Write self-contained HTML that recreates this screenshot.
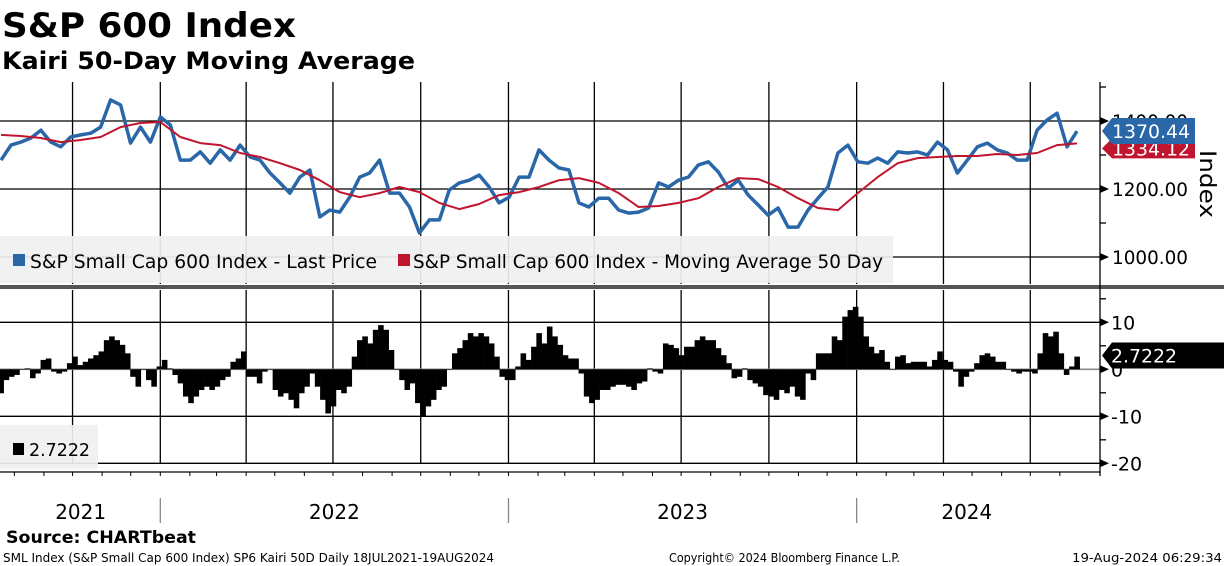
<!DOCTYPE html>
<html><head><meta charset="utf-8"><style>
html,body{margin:0;padding:0;background:#fff;}
svg{display:block;}
text{font-family:"DejaVu Sans","Liberation Sans",sans-serif;}
</style></head><body>
<svg id="chart" width="1224" height="566" viewBox="0 0 1224 566" xmlns="http://www.w3.org/2000/svg">
<text x="2" y="37" font-size="34" font-weight="bold" textLength="294" lengthAdjust="spacingAndGlyphs">S&amp;P 600 Index</text>
<text x="2" y="69" font-size="24" font-weight="bold" textLength="413" lengthAdjust="spacingAndGlyphs">Kairi 50-Day Moving Average</text>
<g id="grid"></g>
<rect x="0" y="236" width="893" height="47" fill="#f0f0f0" opacity="0.92"/>
<rect x="0" y="425" width="98" height="44" fill="#f0f0f0" opacity="0.92"/>
<g id="marks"></g>
<g id="legend">
<rect x="13" y="254" width="12" height="12" fill="#2a67a8"/>
<text x="30" y="268" font-size="19" textLength="347" lengthAdjust="spacingAndGlyphs">S&amp;P Small Cap 600 Index - Last Price</text>
<rect x="398" y="254" width="12" height="12" fill="#c0152f"/>
<text x="413" y="268" font-size="19" textLength="470" lengthAdjust="spacingAndGlyphs">S&amp;P Small Cap 600 Index - Moving Average 50 Day</text>
<rect x="13" y="443" width="11" height="12" fill="#000"/>
<text x="29" y="456" font-size="18" textLength="61" lengthAdjust="spacingAndGlyphs">2.7222</text>
</g>
<g id="axes"></g>
<text transform="translate(1200,150) rotate(90)" font-size="22" textLength="68" lengthAdjust="spacingAndGlyphs">Index</text>
<text x="6" y="543" font-size="17" font-weight="bold" textLength="190" lengthAdjust="spacingAndGlyphs">Source: CHARTbeat</text>
<text x="3" y="562" font-size="12" textLength="491" lengthAdjust="spacingAndGlyphs">SML Index (S&amp;P Small Cap 600 Index) SP6 Kairi 50D  Daily 18JUL2021-19AUG2024</text>
<text x="669" y="562" font-size="12" textLength="231" lengthAdjust="spacingAndGlyphs">Copyright© 2024 Bloomberg Finance L.P.</text>
<text x="1072" y="562" font-size="12" textLength="150" lengthAdjust="spacingAndGlyphs">19-Aug-2024 06:29:34</text>
</svg>
<script>
const startDate = "2021-07-18";
const endDate = "2024-08-19";
const priceValues = [1285,1329,1338,1350,1373,1338,1324,1353,1359,1364,1382,1462,1447,1335,1382,1338,1412,1388,1285,1285,1309,1276,1315,1285,1329,1294,1285,1247,1218,1188,1235,1256,1118,1138,1132,1176,1235,1247,1285,1188,1188,1147,1071,1109,1109,1197,1218,1226,1241,1206,1159,1176,1235,1235,1315,1285,1262,1256,1159,1147,1173,1173,1138,1129,1132,1144,1218,1206,1226,1235,1271,1280,1250,1203,1226,1182,1153,1123,1144,1088,1088,1138,1173,1206,1306,1329,1280,1276,1291,1276,1309,1306,1309,1300,1338,1315,1247,1285,1324,1335,1315,1306,1285,1285,1373,1403,1423,1324,1370];
const maValues = [1359,1356,1350,1338,1344,1353,1382,1394,1397,1353,1335,1329,1306,1294,1276,1256,1226,1191,1176,1188,1206,1191,1159,1141,1156,1182,1191,1206,1226,1232,1218,1188,1147,1150,1159,1173,1206,1232,1229,1206,1173,1144,1138,1188,1235,1276,1291,1294,1297,1297,1303,1300,1306,1329,1334];
const kairiValues = [-5.1,-2.3,-1.6,-1.2,-0.1,0.2,-1.9,-0.9,2,2.3,-0.5,-0.9,-0.5,1.3,2.7,0.9,1.6,2.3,3,3.8,6.2,7,6.2,5.2,3.4,-1.6,-3.7,-0.1,-2.3,-3.7,0.6,2,0.2,-1.2,-3,-5.8,-7.2,-5.8,-4.4,-3.7,-4.4,-3.7,-2.3,-1.6,1.6,2.3,3.8,-1.6,-1.6,-3,-0.5,-0.1,-4.4,-5.8,-5.1,-6.5,-8.3,-5.1,-3.7,-0.9,-3.7,-6.5,-9.4,-7.9,-4.4,-5.1,-3.7,2.7,6.2,7,5.5,8.4,9.4,8.4,4.1,-0.1,-2.3,-4.4,-3,-7.2,-10,-7.9,-6.5,-4.4,-3.7,-0.1,3.4,4.5,6.2,7.7,7,7.7,7,5.5,2.7,-1.6,-2.3,-2.3,0.6,3.4,2,4.8,7.7,5.5,
9.1,7,5.2,3,2.3,2.3,-0.9,-5.8,-7.2,-6.5,-4.4,-4.4,-3.7,-3.3,-3.3,-3.7,-4.4,-3,-2.6,0.2,-0.5,-0.9,5.5,5.2,4.5,3,4.8,4.8,6.2,7,6.2,6.2,4.5,3,1.3,-1.9,-1.6,0.2,-2.3,-3,-3.7,-5.5,-5.8,-6.5,-4.4,-5.1,-3.7,-5.8,-6.5,-0.9,-2.3,3.4,3.4,3.4,7,6.2,11.2,12.6,13.3,11.2,7,4.8,3.4,4.1,1.6,-0.1,2.7,3,1.3,1.6,1.6,1.6,0.6,2,3.8,2,1.6,-0.5,-3.7,-1.6,-0.5,1.3,3,3.4,2.7,1.6,1.6,-0.1,-0.5,-0.9,-0.5,-0.5,-0.9,3.4,7.7,7,8,3.4,-1.2,0.6,2.7];
const priceTicks = [1000,1200,1400];
const priceTickLabels = ["1000.00","1200.00","1400.00"];
const kairiTicks = [-20,-10,0,10];
const kairiTickLabels = ["-20","-10","0","10"];
const yearLabels = ["2021","2022","2023","2024"];
const lastPriceLabel = "1370.44";
const lastMaLabel = "1334.12";
const lastKairiLabel = "2.7222";

const NS = "http://www.w3.org/2000/svg";
const X0 = 1, X1 = 1077, AX = 1100;
const t0 = Date.parse(startDate), t1 = Date.parse(endDate);
function xDate(t){ return X0 + (t - t0) / (t1 - t0) * (X1 - X0); }
function xIdx(i, n){ return X0 + i / (n - 1) * (X1 - X0); }
function yPrice(v){ return 121 + (1400 - v) * 68 / 200; }
function yKairi(v){ return 369.3 - v * 4.7; }
function mk(tag, attrs, parent){ const e = document.createElementNS(NS, tag); for (const k in attrs) e.setAttribute(k, attrs[k]); parent.appendChild(e); return e; }
const grid = document.getElementById('grid'), marks = document.getElementById('marks'), axes = document.getElementById('axes');

for (let y = 2021; y <= 2024; y++) for (let m = 0; m < 12; m += 3) {
  const t = Date.UTC(y, m, 1); if (t <= t0 || t >= t1) continue;
  const x = xDate(t);
  for (const [a, b] of [[82, 284], [290, 464]]) {
    const l = mk('line', {x1: x, x2: x, y1: a, y2: b, stroke: '#000', 'stroke-width': 1.3}, grid);
    
    
  }
}
priceTicks.forEach(v => {
  const l = mk('line', {x1: 0, x2: AX, y1: yPrice(v), y2: yPrice(v), stroke: '#000', 'stroke-width': 1.3}, grid);
  
  
});
kairiTicks.forEach(v => {
  const l = mk('line', {x1: 0, x2: AX, y1: yKairi(v), y2: yKairi(v), stroke: v === 0 ? '#888' : '#000', 'stroke-width': v === 0 ? 1.6 : 1.3}, grid);
  
  
});

const bw = (X1 - X0) / (kairiValues.length - 1);
kairiValues.forEach((v, i) => {
  const x = xIdx(i, kairiValues.length), y0 = yKairi(0), y = yKairi(v);
  const r = mk('rect', {x: x - bw / 2, y: Math.min(y, y0), width: bw + 0.3, height: Math.abs(y - y0), fill: '#000'}, marks);
  
  
});
function line(vals, color, w, name){
  const d = vals.map((v, i) => (i ? 'L' : 'M') + xIdx(i, vals.length).toFixed(1) + ',' + yPrice(v).toFixed(1)).join('');
  const p = mk('path', {d: d, fill: 'none', stroke: color, 'stroke-width': w, 'stroke-linejoin': 'round'}, marks);
  
  
}
line(priceValues, '#2a67a8', 3.5, 'last-price-line');
line(maValues, '#c0152f', 2, 'moving-average-line');

const sep = mk('rect', {x: 0, y: 285, width: 1224, height: 4, fill: '#555'}, axes);


const ax = mk('line', {x1: AX, x2: AX, y1: 82, y2: 476, stroke: '#000', 'stroke-width': 1.3}, axes);


for (let v = 1000; v <= 1500; v += 100) {
  const y = yPrice(v); if (y < 82) continue;
  const t = mk('line', {x1: AX, x2: AX + 6, y1: y, y2: y, stroke: '#000', 'stroke-width': 1.3}, axes);
  
  
}
for (let v = -20; v <= 15; v += 5) {
  const y = yKairi(v); if (y < 290) continue;
  const t = mk('line', {x1: AX, x2: AX + 6, y1: y, y2: y, stroke: '#000', 'stroke-width': 1.3}, axes);
  
  
}
function arrow(y){ const a = mk('path', {d: `M${AX},${y - 4}L${AX + 9},${y}L${AX},${y + 4}Z`, fill: '#000'}, axes);
  
   }
priceTicks.forEach((v, i) => {
  arrow(yPrice(v));
  const t = mk('text', {x: 1112, y: yPrice(v) + 7, 'font-size': 19, textLength: 76, lengthAdjust: 'spacingAndGlyphs'}, axes);
  t.textContent = priceTickLabels[i];
  
  
});
kairiTicks.forEach((v, i) => {
  arrow(yKairi(v));
  const t = mk('text', {x: 1111, y: yKairi(v) + 7, 'font-size': 19}, axes);
  t.textContent = kairiTickLabels[i];
  
  
});
function tag(y, h, fill, txt, name){
  const g = mk('g', {}, axes);
  
  
  mk('path', {d: `M${AX + 2},${y}L${AX + 12},${y - h / 2}L1195,${y - h / 2}L1195,${y + h / 2}L${AX + 12},${y + h / 2}Z`, fill: fill}, g);
  const t = mk('text', {x: 1112, y: y + 7, 'font-size': 19, fill: '#fff', textLength: 78, lengthAdjust: 'spacingAndGlyphs'}, g);
  t.textContent = txt;
}
tag(yPrice(1334.12) + 5, 20, '#c0152f', lastMaLabel, 'last-ma-tag');
tag(yPrice(1370.44), 26, '#2a67a8', lastPriceLabel, 'last-price-tag');
(function(){
  const y = yKairi(2.7222) - 1;
  const g = mk('g', {}, axes);
  
  
  mk('path', {d: `M${AX + 2},${y}L${AX + 12},${y - 13}L1224,${y - 13}L1224,${y + 13}L${AX + 12},${y + 13}Z`, fill: '#000'}, g);
  const t = mk('text', {x: 1111, y: y + 7, 'font-size': 19, fill: '#fff', textLength: 66, lengthAdjust: 'spacingAndGlyphs'}, g);
  t.textContent = lastKairiLabel;
})();
const bx = mk('line', {x1: 0, x2: AX, y1: 472, y2: 472, stroke: '#000', 'stroke-width': 1.3}, axes);


for (let y = 2021; y <= 2024; y++) for (let m = 0; m < 12; m++) {
  const t = Date.UTC(y, m, 1); if (t <= t0 || t >= t1) continue;
  const x = xDate(t);
  const l = mk('line', {x1: x, x2: x, y1: 472, y2: 476, stroke: '#000', 'stroke-width': 1}, axes);
  
  
}
yearLabels.forEach((yr, i) => {
  const y = +yr;
  const a = Math.max(t0, Date.UTC(y, 0, 1)), b = Math.min(t1, Date.UTC(y + 1, 0, 1));
  const t = mk('text', {x: (xDate(a) + xDate(b)) / 2, y: 519, 'font-size': 20, 'text-anchor': 'middle'}, axes);
  t.textContent = yr;
  
  
  if (i > 0) {
    const s = mk('line', {x1: xDate(a), x2: xDate(a), y1: 498, y2: 523, stroke: '#888', 'stroke-width': 1.3}, axes);
    
    
  }
});
</script>
</body></html>
